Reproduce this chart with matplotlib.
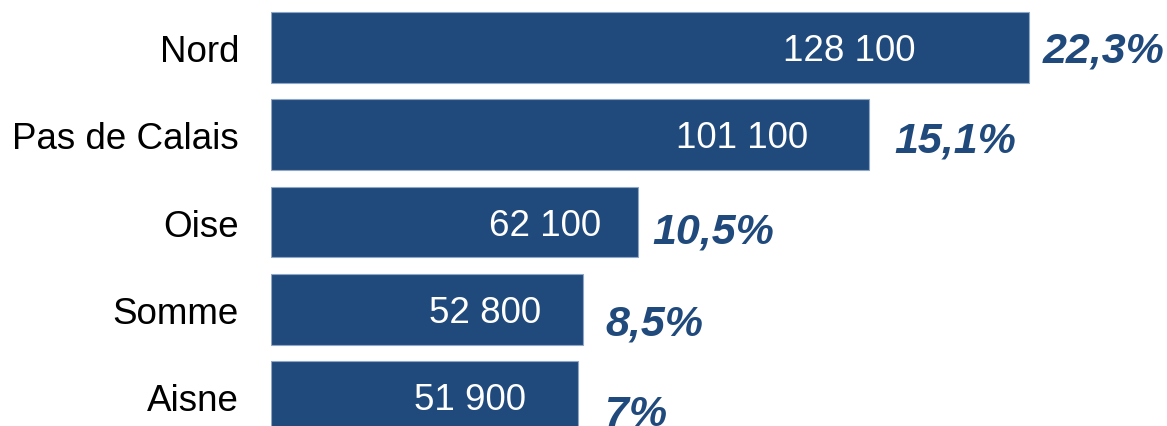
import matplotlib.pyplot as plt

departements = ['Nord', 'Pas de Calais', 'Oise', 'Somme', 'Aisne']
effectifs = [128100, 101100, 62100, 52800, 51900]
effectifs_txt = ['128 100', '101 100', '62 100', '52 800', '51 900']
parts = ['22,3%', '15,1%', '10,5%', '8,5%', '7%']

bleu = '#214a7c'
plt.rcParams['font.family'] = ['Liberation Sans', 'DejaVu Sans']

fig = plt.figure(figsize=(11.67, 4.27), dpi=100)
ax = fig.add_axes([271 / 1167, 0, 896 / 1167, 1])

y = list(range(len(departements)))
ax.barh(y, effectifs, height=0.81, color=bleu, edgecolor='#8fa7c6', linewidth=0.8)

# decalages en pixels des etiquettes
val_dx = [-180, -127, -93, -98, -108]
pct_dx = [14, 25, 14, 22, 27]
pct_dy = [-13.5, -16.5, -20.5, -25.5, -28.5]

for i in y:
    ax.annotate(effectifs_txt[i], xy=(effectifs[i], i), xytext=(val_dx[i], -12.5),
                textcoords='offset pixels', ha='center', va='baseline',
                color='white', fontsize=26.5)
    ax.annotate(parts[i], xy=(effectifs[i], i), xytext=(pct_dx[i], pct_dy[i]),
                textcoords='offset pixels', ha='left', va='baseline',
                color=bleu, fontsize=31, fontweight='bold', fontstyle='italic')

ax.set_xlim(0, 128100 / 758 * 896)
ax.set_ylim(4 + 29.3 / 87.2, -48.5 / 87.2)
ax.set_yticks(y)
ax.set_yticklabels(departements, fontsize=26.5)
ax.tick_params(axis='y', length=0, pad=23)
ax.set_xticks([])
for s in ax.spines.values():
    s.set_visible(False)

fig.savefig('out.png', dpi=100)
